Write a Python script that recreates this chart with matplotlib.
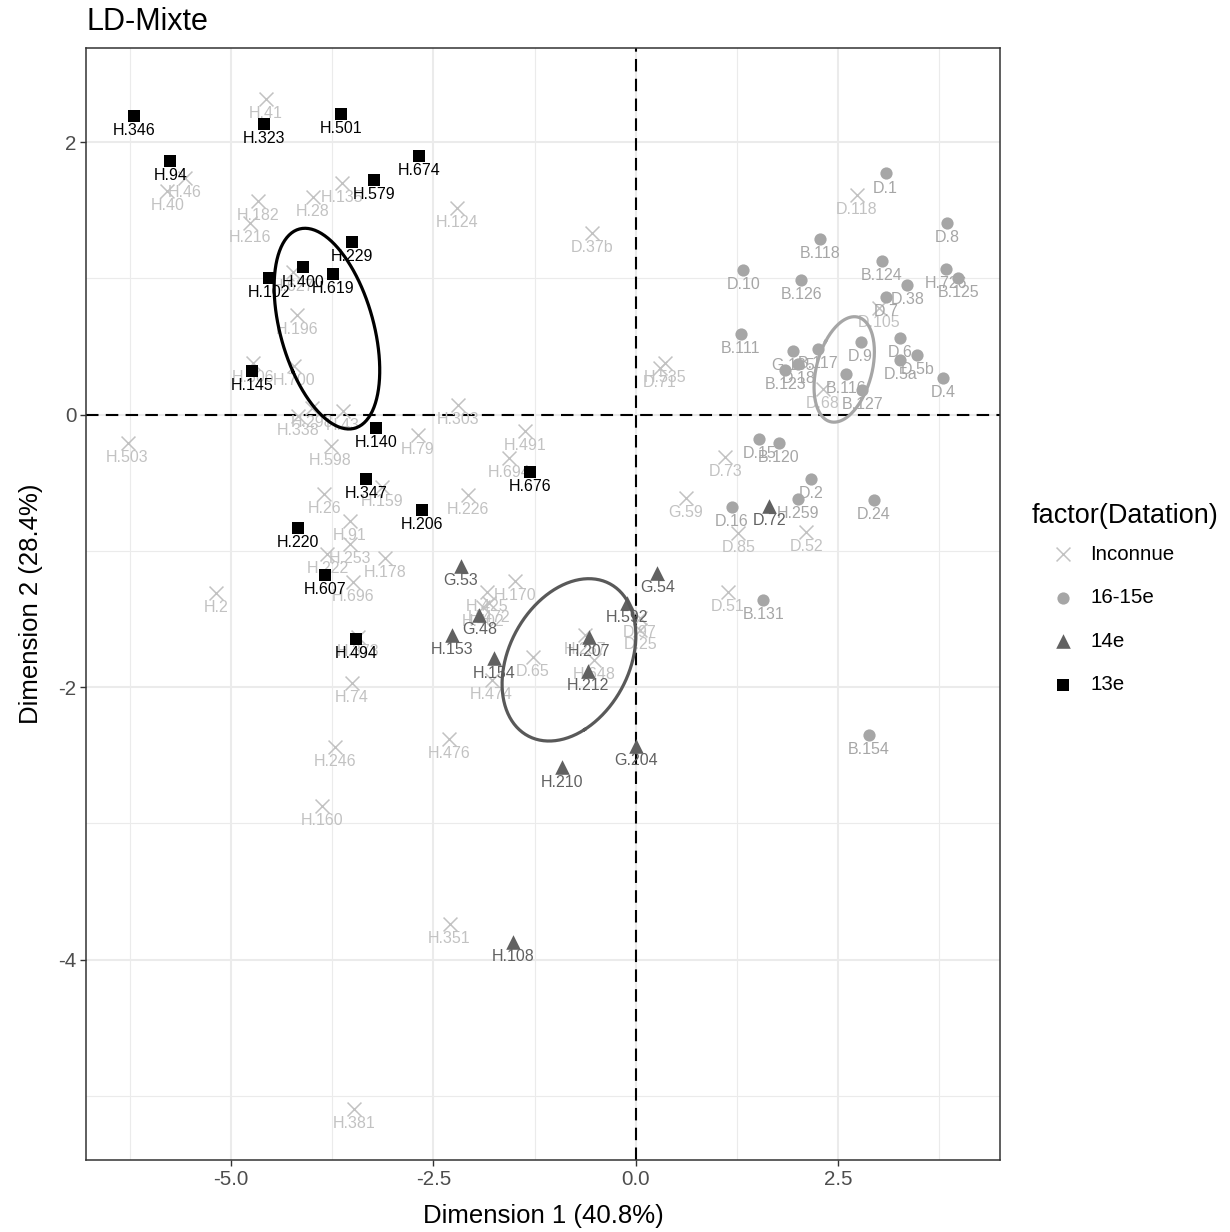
import numpy as np
import matplotlib
matplotlib.use("Agg")
import matplotlib.pyplot as plt

plt.rcParams['font.family'] = ['Liberation Sans', 'DejaVu Sans']

# --- data ---
inc_labels = ["H.41", "H.46", "H.40", "H.182", "H.216", "H.28", "H.135", "H.627", "H.124",
              "D.37b", "D.118", "H.196", "H.306", "H.700", "H.298", "H.338", "H.43", "H.598",
              "H.503", "H.79", "H.303", "H.491", "H.694", "H.535", "D.71", "H.226", "H.26",
              "H.159", "H.91", "H.253", "H.222", "H.178", "H.696", "H.2", "H.373", "H.74",
              "H.246", "H.160", "H.476", "H.351", "H.381", "H.170", "H.425", "H.402", "H.472",
              "H.474", "D.65", "H.287", "H.648", "D.97", "D.25", "D.73", "G.59", "D.85",
              "D.52", "D.51", "D.68", "D.105"]
inc_x = [-4.57, -5.57, -5.79, -4.67, -4.77, -3.99, -3.63, -4.23, -2.21,
         -0.54, 2.73, -4.19, -4.73, -4.22, -4.00, -4.17, -3.62, -3.77,
         -6.28, -2.69, -2.20, -1.37, -1.56, 0.36, 0.30, -2.07, -3.85,
         -3.14, -3.53, -3.53, -3.81, -3.10, -3.49, -5.19, -3.43, -3.51,
         -3.72, -3.88, -2.31, -2.30, -3.48, -1.49, -1.84, -1.89, -1.81,
         -1.78, -1.27, -0.63, -0.51, 0.05, 0.06, 1.11, 0.62, 1.27,
         2.11, 1.14, 2.31, 3.01]
inc_y = [2.32, 1.74, 1.64, 1.57, 1.41, 1.60, 1.70, 1.05, 1.52,
         1.33, 1.61, 0.73, 0.38, 0.36, 0.05, -0.01, 0.03, -0.23,
         -0.21, -0.15, 0.07, -0.12, -0.32, 0.38, 0.34, -0.59, -0.58,
         -0.53, -0.78, -0.95, -1.02, -1.05, -1.23, -1.31, -1.63, -1.97,
         -2.44, -2.87, -2.38, -3.74, -5.10, -1.22, -1.30, -1.41, -1.38,
         -1.95, -1.78, -1.62, -1.80, -1.49, -1.58, -0.31, -0.61, -0.87,
         -0.86, -1.30, 0.19, 0.78]

s16_labels = ["D.1", "D.8", "B.118", "B.124", "H.726", "B.125", "D.10", "B.126", "D.38",
              "D.7", "B.111", "D.6", "D.5b", "D.5a", "D.4", "D.9", "B.117", "G.135",
              "D.18", "B.123", "B.116", "B.127", "D.15", "B.120", "D.2", "H.259", "D.16",
              "D.24", "B.131", "B.154"]
s16_x = [3.09, 3.85, 2.28, 3.04, 3.83, 3.99, 1.33, 2.05, 3.36,
         3.10, 1.30, 3.27, 3.48, 3.27, 3.80, 2.78, 2.25, 1.94,
         2.01, 1.85, 2.60, 2.80, 1.53, 1.77, 2.17, 2.01, 1.19,
         2.94, 1.58, 2.88]
s16_y = [1.77, 1.41, 1.29, 1.13, 1.07, 1.00, 1.06, 0.99, 0.95,
         0.86, 0.59, 0.56, 0.44, 0.40, 0.27, 0.53, 0.48, 0.47,
         0.37, 0.33, 0.30, 0.18, -0.18, -0.21, -0.47, -0.62, -0.68,
         -0.63, -1.36, -2.35]

s14_labels = ["G.53", "G.54", "H.592", "G.48", "H.153", "H.154", "H.207", "H.212",
              "D.72", "G.204", "H.210", "H.108"]
s14_x = [-2.16, 0.27, -0.11, -1.93, -2.27, -1.75, -0.58, -0.59, 1.65, 0.00, -0.91, -1.51]
s14_y = [-1.11, -1.16, -1.38, -1.47, -1.62, -1.79, -1.63, -1.88, -0.67, -2.43, -2.59, -3.87]

s13_labels = ["H.346", "H.94", "H.323", "H.501", "H.674", "H.579", "H.229", "H.400", "H.619",
              "H.102", "H.145", "H.140", "H.347", "H.206", "H.220", "H.607", "H.494", "H.676"]
s13_x = [-6.20, -5.75, -4.59, -3.64, -2.68, -3.23, -3.51, -4.11, -3.74,
         -4.53, -4.74, -3.21, -3.33, -2.64, -4.17, -3.84, -3.46, -1.31]
s13_y = [2.19, 1.86, 2.13, 2.21, 1.90, 1.72, 1.27, 1.08, 1.03,
         1.00, 0.32, -0.10, -0.47, -0.70, -0.83, -1.18, -1.65, -0.42]

groups = ["Inconnue", "16-15e", "14e", "13e"]
colors = ["#C2C2C2", "#A6A6A6", "#616161", "#000000"]


def conf_ellipse(x, y, chi2=5.991, n_pts=200):
    # 95% confidence ellipse around the group mean
    x = np.asarray(x)
    y = np.asarray(y)
    cov = np.cov(x, y) / len(x)
    vals, vecs = np.linalg.eigh(cov)
    t = np.linspace(0, 2 * np.pi, n_pts)
    circ = np.vstack([np.cos(t), np.sin(t)]) * np.sqrt(vals * chi2)[:, None]
    pts = vecs @ circ
    return pts[0] + x.mean(), pts[1] + y.mean()


fig = plt.figure(figsize=(12.3, 12.32), dpi=100)
ax = fig.add_axes([86 / 1230, 1 - 1160 / 1232, 914 / 1230, 1112 / 1232])

lab_size = 11.5
off = (0, -13.7)
handles = []

# Inconnue
h = ax.scatter(inc_x, inc_y, marker="x", s=10 ** 2, linewidths=1.1, color=colors[0], zorder=3)
handles.append(h)
for lab, x, y in zip(inc_labels, inc_x, inc_y):
    ax.annotate(lab, (x, y), xytext=off, textcoords="offset points", ha="center",
                va="baseline", fontsize=lab_size, color=colors[0], zorder=3)

# 16-15e
h = ax.scatter(s16_x, s16_y, marker="o", s=8.8 ** 2, linewidths=0, color=colors[1], zorder=4)
handles.append(h)
for lab, x, y in zip(s16_labels, s16_x, s16_y):
    ax.annotate(lab, (x, y), xytext=off, textcoords="offset points", ha="center",
                va="baseline", fontsize=lab_size, color=colors[1], zorder=4)

# 14e
h = ax.scatter(s14_x, s14_y, marker="^", s=10.5 ** 2, linewidths=0, color=colors[2], zorder=5)
handles.append(h)
for lab, x, y in zip(s14_labels, s14_x, s14_y):
    ax.annotate(lab, (x, y), xytext=off, textcoords="offset points", ha="center",
                va="baseline", fontsize=lab_size, color=colors[2], zorder=5)

# 13e
h = ax.scatter(s13_x, s13_y, marker="s", s=8.4 ** 2, linewidths=0, color=colors[3], zorder=6)
handles.append(h)
for lab, x, y in zip(s13_labels, s13_x, s13_y):
    ax.annotate(lab, (x, y), xytext=off, textcoords="offset points", ha="center",
                va="baseline", fontsize=lab_size, color=colors[3], zorder=6)

# confidence ellipses
for gx, gy, col in [(s16_x, s16_y, colors[1]), (s14_x, s14_y, "#595959"), (s13_x, s13_y, colors[3])]:
    ex, ey = conf_ellipse(gx, gy)
    ax.plot(ex, ey, color=col, lw=2.3, zorder=7)

ax.axhline(0, color="black", lw=1.5, ls=(0, (6, 3.5)), zorder=2)
ax.axvline(0, color="black", lw=1.5, ls=(0, (6, 3.5)), zorder=2)

# limits with 5% expansion like ggplot
all_x = np.concatenate([inc_x, s16_x, s14_x, s13_x])
all_y = np.concatenate([inc_y, s16_y, s14_y, s13_y])
rx = all_x.max() - all_x.min()
ry = all_y.max() - all_y.min()
ax.set_xlim(all_x.min() - 0.05 * rx, all_x.max() + 0.05 * rx)
ax.set_ylim(all_y.min() - 0.05 * ry, all_y.max() + 0.05 * ry)

ax.set_xticks([-5, -2.5, 0, 2.5])
ax.set_xticklabels(["-5.0", "-2.5", "0.0", "2.5"])
ax.set_xticks([-6.25, -3.75, -1.25, 1.25, 3.75], minor=True)
ax.set_yticks([-4, -2, 0, 2])
ax.set_yticklabels(["-4", "-2", "0", "2"])
ax.set_yticks([-5, -3, -1, 1], minor=True)
ax.grid(True, which="major", color="#EBEBEB", lw=1.5, zorder=0)
ax.grid(True, which="minor", color="#EBEBEB", lw=0.8, zorder=0)
ax.set_axisbelow(True)
ax.tick_params(which="major", length=4, width=1, color="#333333", labelsize=14.8,
               labelcolor="#4D4D4D", pad=3)
ax.tick_params(which="minor", length=0)
for sp in ax.spines.values():
    sp.set_color("#333333")
    sp.set_linewidth(1.1)

ax.set_xlabel("Dimension 1 (40.8%)", fontsize=18.5, labelpad=11)
ax.set_ylabel("Dimension 2 (28.4%)", fontsize=18.5, labelpad=11)
fig.text(87 / 1230, 1 - 30 / 1232, "LD-Mixte", fontsize=22, ha="left", va="baseline")

# legend
fig.text(1032 / 1230, 1 - 523 / 1232, "factor(Datation)", fontsize=19.5, ha="left", va="baseline")
leg = fig.legend(handles, groups, loc="center left",
                 bbox_to_anchor=(1033 / 1230, 1 - 619.5 / 1232), frameon=False,
                 fontsize=14.8, borderaxespad=0, borderpad=0, handlelength=2.95,
                 handletextpad=-0.15, labelspacing=1.2, scatterpoints=1)

fig.savefig("out.png", dpi=100)
